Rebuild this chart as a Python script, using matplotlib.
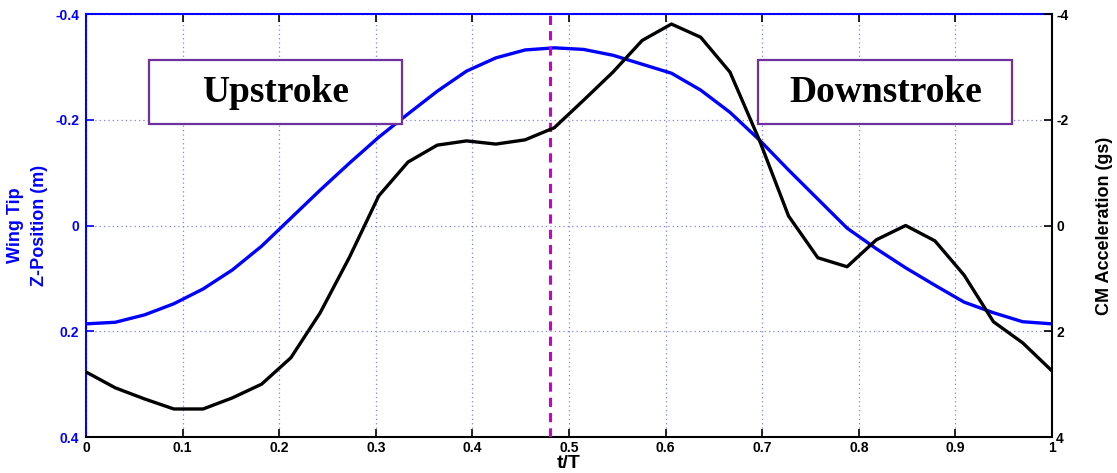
import numpy as np
import matplotlib
matplotlib.use("Agg")
import matplotlib.pyplot as plt
from matplotlib.patches import Rectangle

# ---- data ----
t = [i / 33 for i in range(34)]
wing_z = [0.186, 0.183, 0.169, 0.148, 0.120, 0.084, 0.039, -0.014, -0.067, -0.118,
          -0.167, -0.211, -0.254, -0.292, -0.317, -0.332, -0.336, -0.333, -0.322, -0.305,
          -0.288, -0.256, -0.214, -0.162, -0.105, -0.050, 0.005, 0.044, 0.080, 0.113,
          0.145, 0.165, 0.182, 0.186]
cm_acc = [2.77, 3.07, 3.28, 3.47, 3.47, 3.26, 3.00, 2.50, 1.65, 0.60,
          -0.56, -1.20, -1.52, -1.60, -1.54, -1.62, -1.85, -2.37, -2.90, -3.50,
          -3.81, -3.56, -2.90, -1.62, -0.18, 0.61, 0.78, 0.27, 0.00, 0.29,
          0.94, 1.82, 2.22, 2.75]
x_ticks = [0, 0.1, 0.2, 0.3, 0.4, 0.5, 0.6, 0.7, 0.8, 0.9, 1]
x_ticklabels = ["0", "0.1", "0.2", "0.3", "0.4", "0.5", "0.6", "0.7", "0.8", "0.9", "1"]
left_ticks = [-0.4, -0.2, 0, 0.2, 0.4]
left_ticklabels = ["-0.4", "-0.2", "0", "0.2", "0.4"]
right_ticks = [-4, -2, 0, 2, 4]
right_ticklabels = ["-4", "-2", "0", "2", "4"]
phase_split = 0.48
phase_labels = ["Upstroke", "Downstroke"]

BLUE = "#0000ff"
PURPLE = "#7030a0"
plt.rcParams['font.family'] = ['Liberation Sans', 'DejaVu Sans']

fig = plt.figure(figsize=(11.17, 4.73), dpi=100)
ax = fig.add_axes([0.077, 0.0761, 0.8648, 0.8943])
ax2 = ax.twinx()

ax.set_xlim(0, 1)
ax.set_ylim(0.4, -0.4)
ax.set_xticks(x_ticks)
ax.set_xticklabels(x_ticklabels, fontsize=10, fontweight='bold')
ax.set_yticks(left_ticks)
ax.set_yticklabels(left_ticklabels, fontsize=10, fontweight='bold', color=BLUE)
ax.grid(True, color='#8080ff', linestyle=(0, (1, 2.5)), linewidth=0.9)
ax.tick_params(axis='x', direction='in', length=6, width=1.2, top=True, pad=3)
ax.tick_params(axis='y', direction='in', length=6, width=1.2, colors=BLUE, pad=5)
for tick in ax.xaxis.get_major_ticks():
    tick.tick2line.set_color(BLUE)
    tick.tick1line.set_color('black')

ax.spines['top'].set_color(BLUE)
ax.spines['left'].set_color(BLUE)
ax.spines['bottom'].set_color('black')
ax.spines['right'].set_visible(False)
for s in ['top', 'left', 'bottom']:
    ax.spines[s].set_linewidth(1.5)

ax.plot(t, wing_z, color=BLUE, linewidth=2.4, zorder=3)
ax.axvline(phase_split, color='#cc00cc', linestyle=(0, (3, 2)), linewidth=2.2, zorder=4)

ax2.set_ylim(4, -4)
ax2.set_yticks(right_ticks)
ax2.set_yticklabels(right_ticklabels, fontsize=10, fontweight='bold')
ax2.tick_params(axis='y', direction='in', length=6, width=1.2, pad=3)
ax2.spines['right'].set_color('black')
ax2.spines['right'].set_linewidth(1.5)
for s in ['top', 'left', 'bottom']:
    ax2.spines[s].set_visible(False)
ax2.plot(t, cm_acc, color='black', linewidth=2.4, zorder=3)

# phase boxes
boxes = [(0.065, 0.327), (0.696, 0.959)]
for (x0, x1), label in zip(boxes, phase_labels):
    y0 = 1 - (124 - 14) / 423
    y1 = 1 - (60 - 14) / 423
    rect = Rectangle((x0, y0), x1 - x0, y1 - y0, transform=ax.transAxes,
                     fill=True, facecolor='white', edgecolor=PURPLE, linewidth=1.6, zorder=5)
    ax.add_patch(rect)
    ax.text((x0 + x1) / 2, (y0 + y1) / 2, label, transform=ax.transAxes,
            ha='center', va='center', fontsize=27, fontweight='bold',
            family=['Liberation Serif', 'DejaVu Serif'], zorder=6)

ax.set_xlabel("t/T", fontsize=14, fontweight='bold', labelpad=0)
ax.set_ylabel("Wing Tip\nZ-Position (m)", fontsize=13, fontweight='bold', color=BLUE,
              linespacing=1.55, labelpad=5)
ax2.set_ylabel("CM Acceleration (gs)", fontsize=13, fontweight='bold', color='black',
               labelpad=20)

fig.savefig("out.png", dpi=100)
